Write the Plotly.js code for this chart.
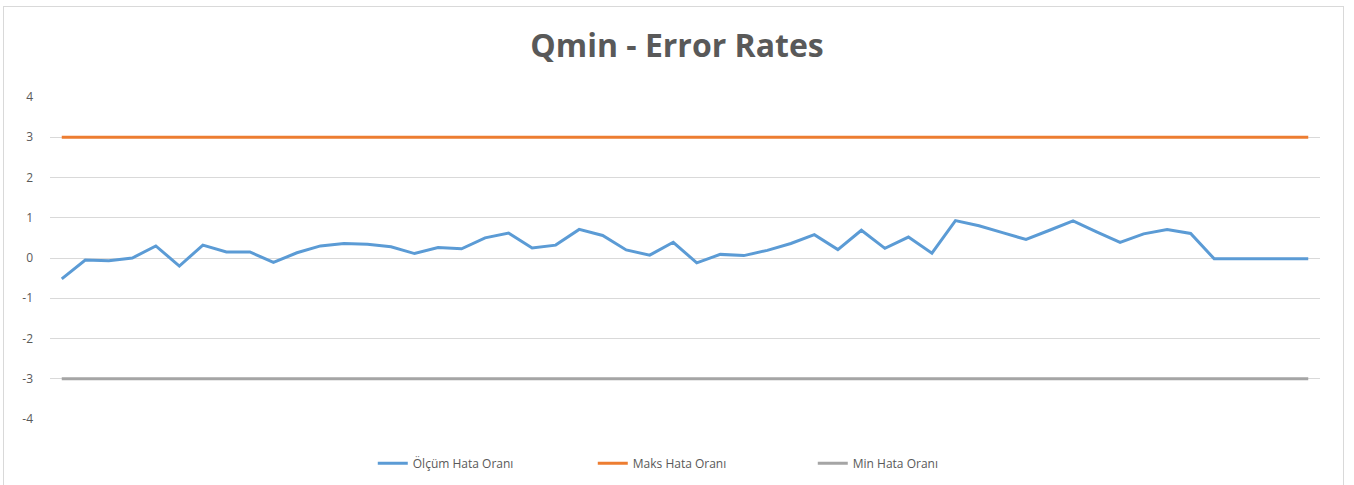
<!DOCTYPE html>
<html>
<head>
<meta charset="utf-8">
<script src="https://cdn.plot.ly/plotly-3.0.1.min.js"></script>
<style>
html,body{margin:0;padding:0;background:#fff;}
#chart{width:1354px;height:485px;}
#frame{position:absolute;left:3px;top:6px;width:1339px;height:490px;border:1px solid #d9d9d9;pointer-events:none;}
</style>
</head>
<body>
<div id="chart"></div>
<div id="frame"></div>
<script>
var categories = [];
for (var i = 1; i <= 54; i++) categories.push(i);

var olcumHata = [-0.52, -0.05, -0.07, 0.0, 0.30, -0.20, 0.32, 0.15, 0.15, -0.11,
                 0.13, 0.30, 0.36, 0.34, 0.28, 0.11, 0.26, 0.23, 0.50, 0.62,
                 0.25, 0.32, 0.71, 0.56, 0.20, 0.07, 0.39, -0.12, 0.09, 0.06,
                 0.19, 0.36, 0.58, 0.21, 0.69, 0.24, 0.52, 0.12, 0.93, 0.80,
                 0.63, 0.46, 0.69, 0.92, 0.65, 0.39, 0.60, 0.71, 0.61, -0.02,
                 -0.02, -0.02, -0.02, -0.02];
var maksHata = categories.map(function(){ return 3; });
var minHata = categories.map(function(){ return -3; });

var seriesNames = ["Ölçüm Hata Oranı", "Maks Hata Oranı", "Min Hata Oranı"];
var seriesColors = ["#5B9BD5", "#ED7D31", "#A5A5A5"];
var yTicks = [-4, -3, -2, -1, 0, 1, 2, 3, 4];
var yTickText = ["-4", "-3", "-2", "-1", "0", "1", "2", "3", "4"];

var traces = [olcumHata, maksHata, minHata].map(function(vals, k){
  return {
    x: categories, y: vals, type: 'scatter', mode: 'lines',
    name: seriesNames[k],
    line: {color: seriesColors[k], width: 3}
  };
});

var layout = {
  width: 1354, height: 485,
  margin: {l: 50, r: 34, t: 97, b: 66},
  paper_bgcolor: '#ffffff', plot_bgcolor: '#ffffff',
  font: {family: 'Open Sans, Liberation Sans, sans-serif', color: '#595959', size: 12},
  title: {text: 'Qmin - Error Rates', x: 0.5, xanchor: 'center', y: 0.905, yanchor: 'middle',
          font: {family: 'Open Sans, sans-serif', size: 32, color: '#595959', weight: 'bold'}},
  xaxis: {range: [0.5, 54.5], showgrid: false, showticklabels: false, zeroline: false,
          showline: false, ticks: ''},
  yaxis: {range: [-4, 4], tickvals: yTicks, ticktext: yTickText, showgrid: true, gridcolor: '#D9D9D9', gridwidth: 1,
          zeroline: true, zerolinecolor: '#D9D9D9', zerolinewidth: 1, showline: false,
          ticks: '', ticklabelstandoff: 16, tickfont: {size: 12, color: '#595959'}},
  showlegend: true,
  legend: {orientation: 'h', xref: 'paper', x: 0.514, xanchor: 'center',
           yref: 'container', y: 0.045, yanchor: 'middle',
           font: {size: 12, color: '#595959'}, itemwidth: 30, traceorder: 'normal',
           entrywidth: 175}
};

Plotly.newPlot('chart', traces, layout, {displayModeBar: false, staticPlot: true});
</script>
</body>
</html>
